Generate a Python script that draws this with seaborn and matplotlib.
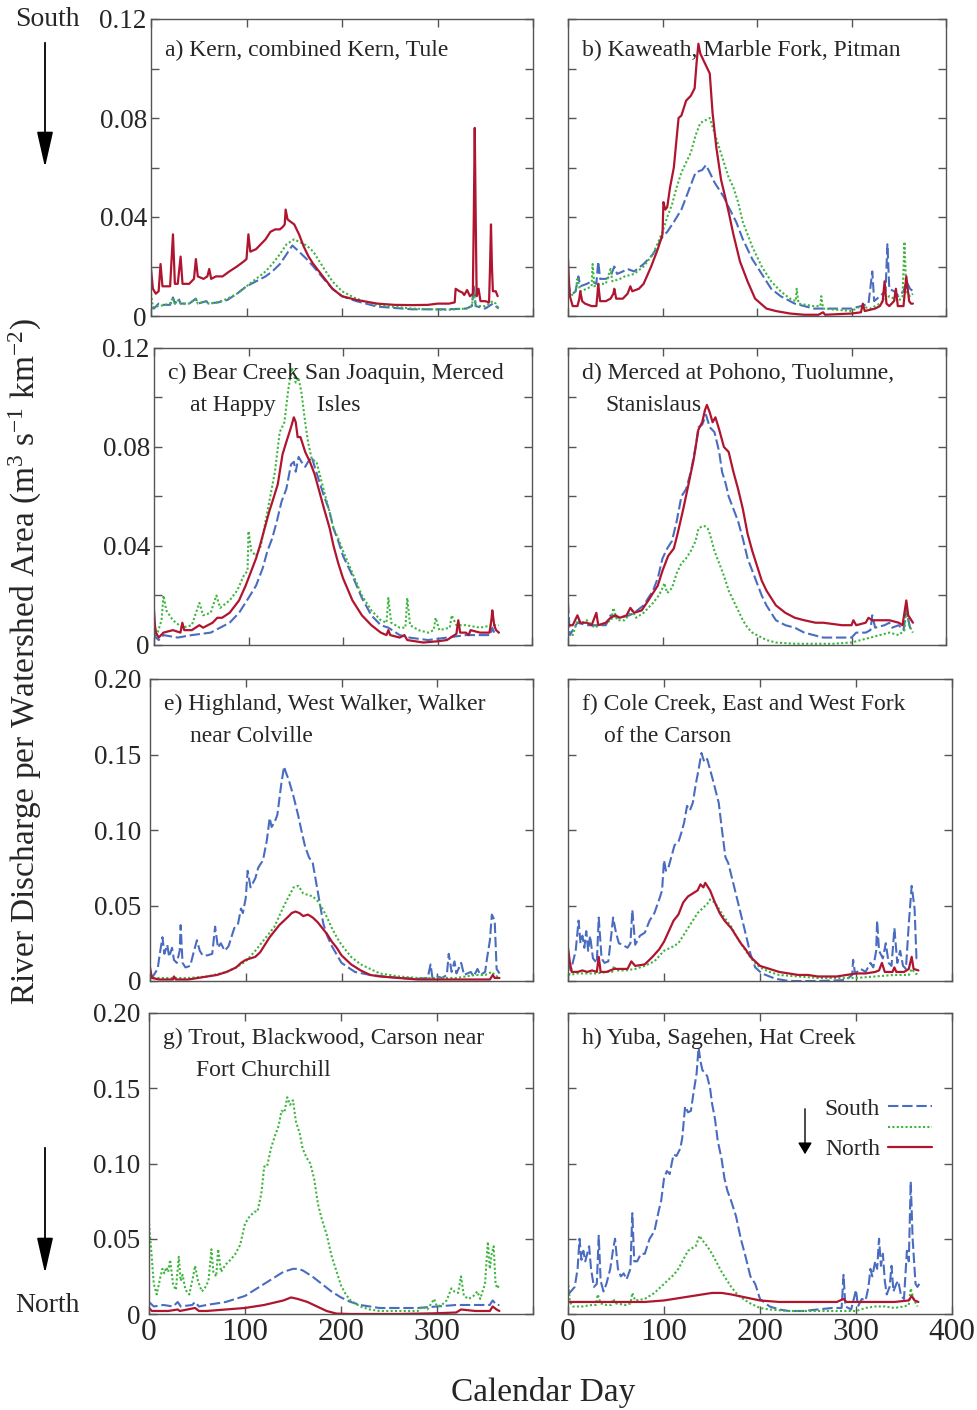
import matplotlib
matplotlib.use("Agg")
import matplotlib.pyplot as plt
import pandas as pd
import seaborn as sns
from matplotlib.lines import Line2D
from matplotlib.ticker import FixedLocator, FuncFormatter

# ---------------- data: (calendar day, discharge per area) ----------------
# panel a) Kern, combined Kern, Tule
A_SOUTH = [(0,0.0035),(3,0.003),(8,0.005),(12,0.0045),(20,0.0045),(23,0.0075),(25,0.005),(29,0.007),(31,0.005),(40,0.005),(47,0.007),(49,0.005),(58,0.006),(60,0.005),(70,0.0055),(80,0.0065),(90,0.009),(100,0.012),(110,0.014),(120,0.016),(127,0.018),(135,0.021),(142,0.025),(148,0.0285),(155,0.026),(163,0.023),(170,0.020),(182,0.0145),(190,0.011),(200,0.008),(215,0.006),(237,0.0038),(273,0.0027),(310,0.0027),(330,0.003),(336,0.004),(338,0.012),(340,0.004),(350,0.003),(358,0.005),(364,0.003)]
A_MID = [(0,0.009),(2,0.0035),(8,0.004),(15,0.0045),(20,0.005),(23,0.0075),(25,0.005),(29,0.0065),(31,0.005),(40,0.005),(47,0.007),(49,0.005),(58,0.006),(60,0.005),(70,0.0055),(80,0.007),(90,0.009),(100,0.012),(110,0.015),(120,0.018),(127,0.021),(135,0.025),(142,0.029),(150,0.031),(155,0.030),(163,0.0285),(170,0.026),(182,0.0186),(190,0.014),(200,0.010),(215,0.007),(237,0.0044),(273,0.003),(310,0.0025),(330,0.003),(336,0.004),(338,0.010),(340,0.004),(350,0.004),(358,0.006),(361,0.005),(364,0.003)]
A_NORTH = [(0,0.019),(2,0.011),(5,0.009),(8,0.010),(10,0.021),(12,0.012),(16,0.012),(20,0.012),(23,0.033),(25,0.013),(28,0.013),(31,0.024),(33,0.013),(40,0.013),(45,0.015),(47,0.023),(49,0.016),(55,0.015),(59,0.016),(61,0.019),(63,0.015),(68,0.016),(75,0.016),(82,0.018),(90,0.020),(97,0.022),(100,0.023),(102,0.033),(104,0.026),(110,0.027),(115,0.029),(120,0.031),(125,0.034),(130,0.035),(135,0.035),(138,0.036),(140,0.037),(141,0.043),(143,0.039),(150,0.037),(155,0.033),(160,0.028),(165,0.024),(170,0.021),(182,0.015),(190,0.011),(200,0.008),(215,0.0065),(237,0.005),(255,0.0045),(273,0.0044),(290,0.0045),(300,0.005),(312,0.005),(318,0.0055),(319,0.011),(323,0.010),(326,0.0095),(328,0.0085),(331,0.0105),(334,0.008),(337,0.009),(338,0.040),(339,0.076),(340,0.040),(341,0.008),(343,0.011),(345,0.006),(350,0.006),(354,0.0055),(355,0.020),(356,0.037),(357,0.020),(358,0.010),(361,0.010),(363,0.008)]

# panel b) Kaweath, Marble Fork, Pitman
B_SOUTH = [(0,0.014),(2,0.010),(5,0.009),(8,0.010),(11,0.016),(13,0.012),(20,0.013),(25,0.014),(30,0.013),(32,0.022),(34,0.015),(40,0.015),(45,0.016),(49,0.020),(52,0.017),(58,0.018),(63,0.019),(70,0.018),(80,0.021),(90,0.025),(100,0.032),(105,0.034),(112,0.038),(120,0.043),(128,0.051),(135,0.058),(142,0.059),(146,0.061),(150,0.058),(155,0.054),(160,0.051),(165,0.048),(170,0.044),(178,0.038),(185,0.031),(195,0.023),(205,0.017),(215,0.011),(225,0.008),(240,0.005),(260,0.003),(280,0.003),(300,0.003),(310,0.004),(318,0.005),(322,0.018),(324,0.006),(330,0.008),(336,0.010),(338,0.029),(340,0.011),(345,0.010),(350,0.008),(355,0.010),(358,0.014),(362,0.011),(365,0.010)]
B_MID = [(0,0.011),(3,0.008),(8,0.010),(10,0.015),(13,0.010),(20,0.011),(25,0.012),(26,0.021),(28,0.012),(35,0.013),(40,0.013),(45,0.019),(47,0.014),(55,0.015),(60,0.016),(70,0.017),(80,0.020),(90,0.025),(100,0.034),(105,0.040),(110,0.045),(115,0.052),(120,0.058),(125,0.062),(130,0.066),(135,0.073),(140,0.078),(145,0.079),(150,0.080),(155,0.074),(160,0.068),(165,0.062),(170,0.056),(175,0.052),(180,0.046),(185,0.038),(195,0.028),(205,0.020),(215,0.014),(225,0.010),(235,0.007),(241,0.006),(242,0.011),(244,0.005),(260,0.004),(267,0.004),(268,0.008),(270,0.003),(300,0.002),(310,0.004),(320,0.003),(330,0.005),(340,0.008),(350,0.006),(354,0.008),(356,0.030),(358,0.010),(362,0.008),(365,0.009)]
B_NORTH = [(0,0.023),(1,0.014),(2,0.008),(5,0.004),(10,0.004),(12,0.007),(13,0.010),(15,0.006),(18,0.005),(25,0.004),(30,0.004),(31,0.008),(32,0.013),(34,0.006),(40,0.006),(45,0.007),(48,0.009),(49,0.011),(51,0.007),(58,0.007),(63,0.009),(66,0.012),(68,0.010),(75,0.011),(80,0.013),(88,0.020),(95,0.027),(100,0.033),(101,0.046),(103,0.043),(105,0.044),(108,0.052),(112,0.060),(115,0.072),(117,0.080),(120,0.081),(125,0.087),(130,0.089),(134,0.092),(136,0.102),(138,0.110),(140,0.106),(145,0.102),(150,0.098),(153,0.082),(157,0.068),(162,0.055),(167,0.047),(170,0.042),(175,0.033),(182,0.022),(190,0.014),(198,0.007),(210,0.003),(220,0.002),(235,0.001),(250,0.0005),(265,0.0005),(270,0.0015),(272,0.0005),(300,0.001),(310,0.0015),(312,0.005),(314,0.002),(325,0.003),(330,0.004),(333,0.006),(335,0.014),(337,0.005),(340,0.004),(345,0.006),(347,0.011),(349,0.004),(355,0.004),(358,0.016),(361,0.006),(363,0.005),(365,0.005)]

# panel c) Bear Creek San Joaquin, Merced at Happy Isles
C_SOUTH = [(0,0.005),(2,0.003),(5,0.002),(10,0.004),(25,0.003),(40,0.004),(60,0.005),(70,0.007),(80,0.009),(90,0.013),(100,0.019),(108,0.024),(115,0.031),(120,0.038),(125,0.043),(130,0.050),(135,0.058),(140,0.063),(145,0.073),(148,0.074),(150,0.070),(153,0.076),(156,0.074),(160,0.072),(163,0.074),(167,0.076),(170,0.072),(175,0.066),(180,0.060),(185,0.055),(190,0.047),(195,0.042),(200,0.036),(210,0.028),(220,0.019),(230,0.012),(240,0.008),(248,0.007),(260,0.004),(270,0.003),(290,0.002),(310,0.003),(330,0.004),(345,0.004),(356,0.004),(358,0.007),(360,0.005),(365,0.005)]
C_MID = [(0,0.008),(3,0.004),(8,0.010),(10,0.020),(13,0.014),(20,0.010),(30,0.007),(40,0.008),(48,0.017),(52,0.012),(60,0.013),(66,0.020),(70,0.015),(80,0.018),(88,0.022),(95,0.028),(99,0.030),(100,0.046),(103,0.038),(108,0.036),(113,0.040),(118,0.050),(123,0.060),(128,0.070),(133,0.086),(138,0.090),(142,0.103),(146,0.112),(150,0.106),(153,0.108),(156,0.102),(160,0.090),(163,0.082),(167,0.075),(172,0.074),(176,0.068),(180,0.062),(185,0.055),(190,0.047),(195,0.043),(200,0.038),(210,0.029),(220,0.020),(230,0.014),(240,0.010),(246,0.009),(248,0.019),(251,0.009),(260,0.007),(266,0.007),(268,0.019),(271,0.008),(280,0.006),(290,0.005),(296,0.006),(298,0.011),(302,0.006),(313,0.007),(315,0.012),(320,0.008),(330,0.008),(345,0.007),(358,0.008),(365,0.008)]
C_NORTH = [(0,0.014),(1,0.008),(2,0.005),(5,0.003),(10,0.005),(20,0.006),(28,0.005),(30,0.009),(32,0.006),(40,0.006),(48,0.008),(52,0.007),(62,0.009),(67,0.011),(72,0.011),(80,0.013),(90,0.018),(97,0.024),(103,0.030),(108,0.035),(112,0.040),(117,0.047),(122,0.054),(127,0.060),(131,0.065),(136,0.077),(140,0.082),(145,0.088),(148,0.092),(150,0.090),(152,0.084),(155,0.084),(160,0.078),(165,0.074),(170,0.069),(175,0.062),(180,0.055),(186,0.047),(190,0.040),(195,0.033),(200,0.027),(210,0.018),(220,0.012),(230,0.008),(240,0.005),(246,0.004),(248,0.006),(250,0.004),(260,0.003),(265,0.004),(268,0.002),(285,0.001),(300,0.0015),(310,0.002),(318,0.004),(320,0.0045),(322,0.010),(324,0.005),(330,0.005),(333,0.004),(335,0.006),(345,0.005),(355,0.005),(357,0.010),(358,0.014),(360,0.008),(362,0.006),(365,0.005)]

# panel d) Merced at Pohono, Tuolumne, Stanislaus
D_SOUTH = [(0,0.017),(2,0.004),(5,0.006),(10,0.009),(20,0.008),(30,0.008),(40,0.008),(45,0.012),(55,0.011),(65,0.012),(70,0.013),(80,0.016),(90,0.022),(95,0.027),(100,0.035),(105,0.039),(110,0.042),(115,0.050),(120,0.060),(125,0.063),(130,0.070),(135,0.080),(138,0.088),(142,0.089),(146,0.093),(150,0.088),(155,0.086),(160,0.078),(163,0.070),(167,0.065),(170,0.060),(175,0.055),(180,0.050),(185,0.043),(190,0.035),(195,0.030),(200,0.025),(205,0.020),(210,0.016),(215,0.013),(220,0.010),(230,0.008),(240,0.007),(250,0.005),(260,0.004),(270,0.003),(285,0.003),(300,0.003),(305,0.005),(315,0.005),(320,0.006),(322,0.012),(325,0.007),(335,0.008),(340,0.009),(343,0.007),(350,0.008),(355,0.006),(358,0.014),(362,0.007),(365,0.006)]
D_MID = [(0,0.005),(5,0.004),(10,0.010),(15,0.009),(20,0.010),(28,0.007),(33,0.008),(40,0.009),(46,0.010),(48,0.015),(52,0.010),(60,0.010),(68,0.014),(72,0.011),(80,0.013),(90,0.017),(96,0.020),(100,0.023),(102,0.025),(105,0.021),(110,0.023),(115,0.029),(120,0.033),(125,0.035),(130,0.038),(135,0.042),(138,0.047),(142,0.048),(145,0.048),(148,0.047),(150,0.045),(155,0.038),(160,0.033),(165,0.028),(170,0.022),(175,0.018),(180,0.014),(185,0.010),(190,0.007),(195,0.005),(200,0.004),(210,0.002),(220,0.001),(240,0.0005),(280,0.0005),(300,0.001),(310,0.002),(320,0.003),(330,0.004),(340,0.005),(350,0.004),(356,0.006),(358,0.015),(361,0.008),(365,0.005)]
D_NORTH = [(0,0.008),(5,0.008),(10,0.012),(13,0.009),(20,0.009),(25,0.008),(30,0.013),(32,0.008),(40,0.009),(45,0.011),(50,0.012),(55,0.011),(62,0.012),(66,0.015),(70,0.013),(78,0.014),(85,0.018),(95,0.024),(100,0.030),(106,0.036),(112,0.039),(116,0.045),(122,0.055),(127,0.064),(133,0.075),(138,0.087),(142,0.090),(145,0.095),(147,0.097),(150,0.094),(153,0.090),(156,0.092),(160,0.087),(165,0.080),(170,0.078),(175,0.070),(180,0.063),(185,0.055),(190,0.045),(195,0.038),(200,0.032),(205,0.026),(210,0.022),(220,0.016),(230,0.013),(240,0.011),(250,0.010),(262,0.009),(270,0.009),(290,0.008),(300,0.008),(302,0.010),(305,0.008),(315,0.009),(318,0.011),(322,0.010),(330,0.010),(340,0.010),(350,0.009),(354,0.008),(358,0.018),(360,0.012),(365,0.009)]

# panel e) Highland, West Walker, Walker near Colville
E_SOUTH = [(0,0.004),(3,0.003),(8,0.008),(10,0.017),(13,0.029),(15,0.018),(18,0.024),(20,0.016),(23,0.022),(25,0.014),(28,0.012),(31,0.020),(32,0.037),(34,0.012),(37,0.009),(42,0.010),(46,0.020),(49,0.027),(52,0.020),(55,0.017),(60,0.017),(65,0.018),(68,0.036),(71,0.022),(74,0.025),(78,0.020),(82,0.023),(88,0.035),(92,0.038),(95,0.048),(97,0.045),(100,0.055),(102,0.073),(105,0.062),(110,0.068),(113,0.075),(118,0.080),(122,0.093),(125,0.108),(127,0.102),(130,0.105),(133,0.110),(137,0.130),(140,0.142),(142,0.138),(145,0.133),(150,0.122),(155,0.109),(158,0.100),(162,0.089),(166,0.082),(170,0.078),(175,0.060),(181,0.038),(185,0.030),(190,0.023),(200,0.012),(214,0.006),(230,0.004),(245,0.003),(260,0.002),(280,0.0015),(290,0.002),(293,0.011),(295,0.002),(300,0.003),(305,0.002),(310,0.004),(312,0.018),(315,0.006),(318,0.013),(320,0.005),(325,0.012),(328,0.004),(335,0.006),(338,0.003),(342,0.008),(345,0.004),(350,0.006),(352,0.015),(355,0.027),(357,0.044),(360,0.040),(362,0.008),(365,0.005)]
E_MID = [(0,0.004),(3,0.002),(20,0.002),(40,0.002),(60,0.003),(80,0.006),(90,0.009),(100,0.013),(110,0.020),(120,0.028),(130,0.036),(135,0.043),(140,0.050),(145,0.056),(150,0.062),(155,0.063),(160,0.058),(165,0.057),(170,0.056),(175,0.053),(180,0.048),(185,0.042),(190,0.035),(195,0.029),(200,0.024),(210,0.016),(220,0.011),(230,0.008),(240,0.005),(250,0.004),(260,0.003),(280,0.002),(300,0.002),(320,0.002),(340,0.004),(350,0.004),(357,0.006),(360,0.004),(365,0.002)]
E_NORTH = [(0,0.009),(2,0.002),(10,0.001),(24,0.001),(25,0.003),(27,0.001),(40,0.001),(50,0.002),(60,0.003),(70,0.004),(80,0.006),(90,0.009),(95,0.012),(100,0.014),(105,0.015),(110,0.016),(115,0.019),(120,0.024),(125,0.029),(130,0.033),(135,0.037),(140,0.040),(145,0.043),(148,0.045),(152,0.046),(156,0.045),(160,0.043),(165,0.044),(170,0.042),(175,0.039),(180,0.035),(185,0.031),(190,0.026),(195,0.022),(200,0.017),(210,0.011),(220,0.007),(230,0.004),(240,0.003),(260,0.002),(280,0.001),(300,0.001),(320,0.001),(340,0.001),(355,0.001),(358,0.004),(360,0.002),(365,0.002)]

# panel f) Cole Creek, East and West Fork of the Carson
F_SOUTH = [(0,0.012),(3,0.007),(8,0.020),(11,0.040),(13,0.025),(15,0.030),(17,0.022),(19,0.033),(21,0.020),(23,0.030),(26,0.015),(30,0.012),(32,0.042),(35,0.015),(38,0.012),(42,0.013),(45,0.030),(47,0.042),(50,0.032),(53,0.025),(57,0.024),(62,0.022),(65,0.025),(67,0.047),(70,0.024),(75,0.030),(80,0.032),(85,0.040),(90,0.045),(95,0.054),(98,0.060),(100,0.080),(102,0.073),(105,0.076),(108,0.083),(111,0.090),(115,0.092),(118,0.098),(121,0.105),(124,0.116),(127,0.113),(130,0.118),(133,0.130),(136,0.140),(139,0.151),(142,0.145),(145,0.147),(148,0.140),(151,0.133),(157,0.118),(160,0.102),(164,0.082),(167,0.078),(174,0.060),(179,0.047),(184,0.034),(190,0.018),(195,0.009),(202,0.005),(216,0.0015),(230,0.0),(260,0.0),(285,0.0005),(290,0.001),(296,0.004),(297,0.014),(299,0.005),(305,0.008),(310,0.006),(315,0.012),(318,0.009),(321,0.020),(322,0.040),(324,0.020),(328,0.015),(331,0.025),(334,0.012),(337,0.010),(340,0.035),(343,0.012),(346,0.020),(349,0.010),(352,0.008),(355,0.038),(358,0.063),(361,0.048),(363,0.015),(365,0.016)]
F_MID = [(0,0.008),(2,0.004),(10,0.005),(20,0.005),(30,0.005),(40,0.006),(46,0.006),(48,0.010),(50,0.007),(60,0.007),(70,0.008),(80,0.010),(90,0.013),(100,0.020),(110,0.023),(115,0.025),(120,0.030),(125,0.035),(130,0.040),(135,0.045),(140,0.048),(145,0.051),(148,0.054),(153,0.052),(158,0.047),(163,0.042),(170,0.036),(175,0.030),(180,0.025),(185,0.020),(190,0.016),(195,0.012),(200,0.009),(210,0.006),(220,0.004),(240,0.003),(260,0.002),(280,0.002),(300,0.002),(320,0.003),(340,0.004),(355,0.004),(358,0.008),(362,0.005),(365,0.004)]
F_NORTH = [(0,0.022),(2,0.012),(4,0.006),(10,0.006),(15,0.007),(20,0.006),(25,0.007),(30,0.006),(32,0.016),(34,0.006),(40,0.006),(48,0.008),(55,0.008),(62,0.008),(66,0.013),(70,0.010),(80,0.011),(88,0.016),(95,0.021),(100,0.026),(105,0.033),(110,0.040),(115,0.044),(120,0.052),(125,0.056),(130,0.058),(135,0.060),(138,0.064),(141,0.062),(143,0.065),(148,0.060),(153,0.052),(158,0.045),(163,0.040),(170,0.035),(175,0.030),(180,0.025),(185,0.021),(190,0.016),(195,0.013),(200,0.010),(210,0.008),(220,0.006),(230,0.005),(240,0.004),(250,0.004),(260,0.003),(280,0.003),(290,0.004),(300,0.005),(310,0.005),(320,0.006),(324,0.007),(327,0.012),(330,0.006),(338,0.006),(340,0.009),(342,0.006),(350,0.006),(355,0.008),(358,0.016),(360,0.008),(365,0.007)]

# panel g) Trout, Blackwood, Carson near Fort Churchill
G_SOUTH = [(0,0.008),(5,0.005),(15,0.006),(25,0.005),(30,0.008),(33,0.005),(45,0.006),(48,0.008),(52,0.005),(60,0.006),(70,0.007),(80,0.008),(90,0.010),(100,0.012),(110,0.016),(120,0.020),(130,0.024),(140,0.028),(150,0.030),(155,0.030),(160,0.029),(170,0.025),(180,0.020),(190,0.015),(200,0.011),(210,0.008),(220,0.006),(240,0.004),(260,0.004),(280,0.004),(300,0.005),(320,0.006),(340,0.006),(355,0.006),(358,0.009),(362,0.006),(365,0.006)]
G_MID = [(0,0.060),(2,0.045),(5,0.020),(8,0.013),(12,0.025),(14,0.030),(16,0.027),(18,0.031),(20,0.028),(22,0.036),(25,0.020),(28,0.016),(31,0.038),(33,0.022),(35,0.026),(38,0.016),(42,0.013),(46,0.025),(48,0.032),(51,0.022),(55,0.015),(58,0.017),(62,0.022),(65,0.043),(67,0.028),(70,0.025),(72,0.043),(75,0.028),(80,0.033),(85,0.036),(90,0.040),(95,0.046),(100,0.060),(105,0.065),(110,0.068),(113,0.068),(117,0.080),(120,0.098),(123,0.098),(127,0.110),(131,0.118),(135,0.125),(138,0.135),(141,0.134),(144,0.144),(147,0.139),(150,0.142),(153,0.128),(157,0.120),(160,0.110),(164,0.104),(168,0.100),(172,0.090),(176,0.073),(180,0.063),(185,0.053),(190,0.039),(195,0.029),(200,0.019),(205,0.013),(210,0.009),(220,0.005),(230,0.003),(240,0.002),(260,0.002),(280,0.002),(285,0.005),(290,0.003),(297,0.010),(300,0.005),(305,0.006),(310,0.009),(315,0.017),(318,0.015),(322,0.014),(325,0.025),(328,0.012),(333,0.010),(338,0.012),(342,0.015),(345,0.010),(350,0.020),(353,0.048),(355,0.030),(357,0.040),(359,0.045),(361,0.020),(363,0.017),(365,0.020)]
G_NORTH = [(0,0.004),(3,0.002),(20,0.002),(30,0.003),(32,0.002),(48,0.004),(52,0.002),(60,0.002),(80,0.003),(100,0.004),(120,0.006),(140,0.009),(148,0.011),(155,0.010),(165,0.008),(175,0.005),(185,0.002),(195,0.0003),(210,0.0),(260,0.0),(300,0.0005),(320,0.001),(325,0.003),(340,0.002),(355,0.002),(358,0.005),(362,0.003),(365,0.002)]

# panel h) Yuba, Sagehen, Hat Creek
H_SOUTH = [(0,0.013),(3,0.015),(7,0.018),(10,0.030),(12,0.050),(14,0.036),(16,0.042),(18,0.035),(20,0.040),(22,0.045),(24,0.030),(27,0.018),(30,0.020),(32,0.052),(34,0.022),(37,0.015),(40,0.020),(44,0.030),(47,0.043),(49,0.050),(52,0.030),(55,0.025),(58,0.027),(61,0.023),(65,0.030),(67,0.067),(69,0.035),(72,0.035),(76,0.040),(80,0.040),(85,0.050),(90,0.055),(95,0.070),(97,0.075),(100,0.090),(103,0.095),(106,0.093),(108,0.100),(110,0.106),(113,0.105),(117,0.110),(119,0.117),(122,0.138),(125,0.134),(128,0.135),(131,0.148),(134,0.160),(136,0.177),(138,0.168),(140,0.162),(143,0.160),(145,0.158),(148,0.150),(150,0.140),(153,0.130),(156,0.115),(160,0.103),(163,0.090),(166,0.082),(170,0.075),(175,0.065),(180,0.050),(185,0.038),(190,0.025),(195,0.020),(200,0.010),(210,0.005),(220,0.003),(230,0.002),(245,0.002),(260,0.003),(275,0.004),(285,0.004),(287,0.026),(289,0.005),(295,0.003),(300,0.016),(302,0.005),(306,0.010),(310,0.009),(313,0.018),(315,0.030),(317,0.025),(320,0.035),(322,0.030),(324,0.050),(326,0.032),(328,0.040),(330,0.022),(332,0.013),(335,0.018),(337,0.032),(339,0.015),(342,0.020),(344,0.022),(347,0.012),(350,0.010),(353,0.042),(355,0.035),(357,0.088),(359,0.050),(362,0.020),(364,0.018),(366,0.020)]
H_MID = [(0,0.022),(2,0.008),(5,0.005),(15,0.005),(25,0.006),(29,0.006),(31,0.013),(34,0.007),(40,0.006),(45,0.006),(47,0.010),(50,0.007),(60,0.006),(65,0.007),(67,0.014),(70,0.009),(80,0.010),(90,0.014),(100,0.020),(110,0.026),(115,0.030),(120,0.036),(125,0.042),(130,0.044),(133,0.045),(137,0.052),(140,0.049),(145,0.045),(150,0.040),(155,0.034),(160,0.028),(165,0.023),(170,0.018),(175,0.014),(180,0.011),(190,0.007),(200,0.004),(210,0.003),(230,0.002),(250,0.002),(270,0.002),(290,0.002),(300,0.002),(310,0.004),(320,0.005),(330,0.005),(340,0.004),(350,0.005),(355,0.006),(357,0.017),(360,0.010),(364,0.005)]
H_NORTH = [(0,0.008),(20,0.008),(40,0.008),(60,0.008),(80,0.008),(100,0.009),(120,0.011),(140,0.013),(150,0.014),(160,0.014),(170,0.013),(185,0.011),(200,0.009),(220,0.008),(240,0.008),(260,0.008),(280,0.008),(287,0.010),(290,0.008),(320,0.008),(340,0.008),(355,0.009),(358,0.012),(361,0.009),(365,0.008)]

TITLES = {
    "a": ["a) Kern, combined Kern, Tule"],
    "b": ["b) Kaweath, Marble Fork, Pitman"],
    "c": ["c) Bear Creek San Joaquin, Merced", "at Happy       Isles"],
    "d": ["d) Merced at Pohono, Tuolumne,", "Stanislaus"],
    "e": ["e) Highland, West Walker, Walker", "near Colville"],
    "f": ["f) Cole Creek, East and West Fork", "of the Carson"],
    "g": ["g) Trout, Blackwood, Carson near", "Fort Churchill"],
    "h": ["h) Yuba, Sagehen, Hat Creek"],
}
SERIES = {
    "a": (A_SOUTH, A_MID, A_NORTH), "b": (B_SOUTH, B_MID, B_NORTH),
    "c": (C_SOUTH, C_MID, C_NORTH), "d": (D_SOUTH, D_MID, D_NORTH),
    "e": (E_SOUTH, E_MID, E_NORTH), "f": (F_SOUTH, F_MID, F_NORTH),
    "g": (G_SOUTH, G_MID, G_NORTH), "h": (H_SOUTH, H_MID, H_NORTH),
}
X_TICKS = [0, 100, 200, 300, 400]
Y_TICKS_UPPER = [0, 0.02, 0.04, 0.06, 0.08, 0.10, 0.12]
Y_TICKS_LOWER = [0, 0.05, 0.10, 0.15, 0.20]

# ---------------- style ----------------
sns.set_style("ticks")
plt.rcParams['font.family'] = ['Liberation Serif', 'DejaVu Serif']
plt.rcParams['mathtext.fontset'] = 'custom'
plt.rcParams['mathtext.rm'] = 'Liberation Serif'
plt.rcParams['mathtext.it'] = 'Liberation Serif:italic'

BLUE = "#4a6cc0"
GREEN = "#3db53d"
RED = "#b01530"
STYLES = [
    dict(color=BLUE, lw=1.5, linestyle=(0, (5, 1.8))),
    dict(color=GREEN, lw=1.5, linestyle=(0, (1, 1.1))),
    dict(color=RED, lw=1.6, linestyle="-"),
]
FRAME = "#555555"

W, H = 977, 1410
fig = plt.figure(figsize=(W / 100, H / 100), dpi=100)


def box(l, t, r, b):
    return [l / W, 1 - b / H, (r - l) / W, (b - t) / H]


# key, pixel box, row index, column, line-2 indent px
LAYOUT = [
    ("a", (151, 19, 533, 316), 0, 0, 0),
    ("b", (568, 19, 946, 316), 0, 1, 0),
    ("c", (154, 348, 532, 645), 1, 0, 36),
    ("d", (568, 348, 946, 645), 1, 1, 37),
    ("e", (150, 679, 533, 981), 2, 0, 40),
    ("f", (568, 679, 952, 981), 2, 1, 36),
    ("g", (149, 1013, 533, 1314), 3, 0, 47),
    ("h", (568, 1013, 952, 1314), 3, 1, 0),
]


def fmt_upper(v, pos):
    if abs(v) < 1e-9:
        return "0"
    if abs(round(v / 0.04) * 0.04 - v) < 1e-9:
        return f"{v:.2f}"
    return ""


def fmt_lower(v, pos):
    if abs(v) < 1e-9:
        return "0"
    return f"{v:.2f}"


axes = {}
for key, (l, t, r, b), row, col, indent in LAYOUT:
    ax = fig.add_axes(box(l, t, r, b))
    axes[key] = ax
    wpx, hpx = r - l, b - t
    for pairs, st in zip(SERIES[key], STYLES):
        df = pd.DataFrame(pairs, columns=["day", "q"])
        sns.lineplot(data=df, x="day", y="q", ax=ax, estimator=None,
                     errorbar=None, sort=True, **st)
    ax.set_xlabel("")
    ax.set_ylabel("")
    ax.set_xlim(0, 400)
    upper = row < 2
    ax.set_ylim(0, 0.12 if upper else 0.20)
    ax.xaxis.set_major_locator(FixedLocator(X_TICKS))
    ax.yaxis.set_major_locator(FixedLocator(Y_TICKS_UPPER if upper else Y_TICKS_LOWER))
    ax.yaxis.set_major_formatter(FuncFormatter(fmt_upper if upper else fmt_lower))
    if row == 3:
        if col == 0:
            ax.xaxis.set_major_formatter(FuncFormatter(lambda v, p: "" if v >= 400 else f"{int(v)}"))
        else:
            ax.xaxis.set_major_formatter(FuncFormatter(lambda v, p: f"{int(v)}"))
    ax.tick_params(axis="both", which="both", direction="in", length=6, width=1,
                   color=FRAME, top=True, right=True,
                   labelbottom=(row == 3), labelleft=(col == 0))
    ax.tick_params(axis="y", labelsize=19.5, pad=3 if upper else 6)
    ax.tick_params(axis="x", labelsize=22.5, pad=3)
    for s in ax.spines.values():
        s.set_color(FRAME)
        s.set_linewidth(1.0)
        s.set_visible(True)
    # panel titles
    base1 = 37 if row == 0 else 31
    lines = TITLES[key]
    ax.text(14 / wpx, 1 - base1 / hpx, lines[0], transform=ax.transAxes,
            fontsize=17, va="baseline", ha="left")
    if len(lines) > 1:
        ax.text(indent / wpx, 1 - (base1 + 32) / hpx, lines[1], transform=ax.transAxes,
                fontsize=17, va="baseline", ha="left")

# legend inside panel h
axh = axes["h"]
handles = [Line2D([], [], **STYLES[0]), Line2D([], [], **STYLES[1]), Line2D([], [], **STYLES[2])]
axh.legend(handles, ["South", "", "North"], loc="upper right",
           bbox_to_anchor=((932 - 568) / 384, (1314 - 1098) / 301),
           frameon=False, markerfirst=False, fontsize=17, handlelength=1.85,
           handletextpad=0.35, labelspacing=-0.05, borderpad=0, borderaxespad=0)
axh.annotate("", xy=((805 - 568) / 384, (1314 - 1157) / 301),
             xytext=((805 - 568) / 384, (1314 - 1106) / 301), xycoords="axes fraction",
             arrowprops=dict(arrowstyle="-|>,head_length=0.5,head_width=0.3",
                             color="black", lw=1.0, mutation_scale=14))

# figure-level labels and arrows
over = fig.add_axes([0, 0, 1, 1])
over.set_axis_off()
over.set_xlim(0, W)
over.set_ylim(H, 0)
over.text(47, 20, "South", fontsize=20, ha="center", va="center")
over.text(47, 1305, "North", fontsize=20, ha="center", va="center")
for y0, y1 in [(40, 170), (1145, 1276)]:
    over.annotate("", xy=(45, y1), xytext=(45, y0), xycoords="data",
                  arrowprops=dict(arrowstyle="-|>,head_length=1.1,head_width=0.25",
                                  color="black", lw=1.3, mutation_scale=20))
fig.text(25 / W, 1 - 662 / H,
         "River Discharge per Watershed Area (m$^{3}$ s$^{-1}$ km$^{-2}$)",
         rotation=90, fontsize=24, ha="center", va="center")
fig.text(543 / W, 1 - 1392 / H, "Calendar Day", fontsize=24, ha="center", va="center")

fig.savefig("out.png", dpi=100)
